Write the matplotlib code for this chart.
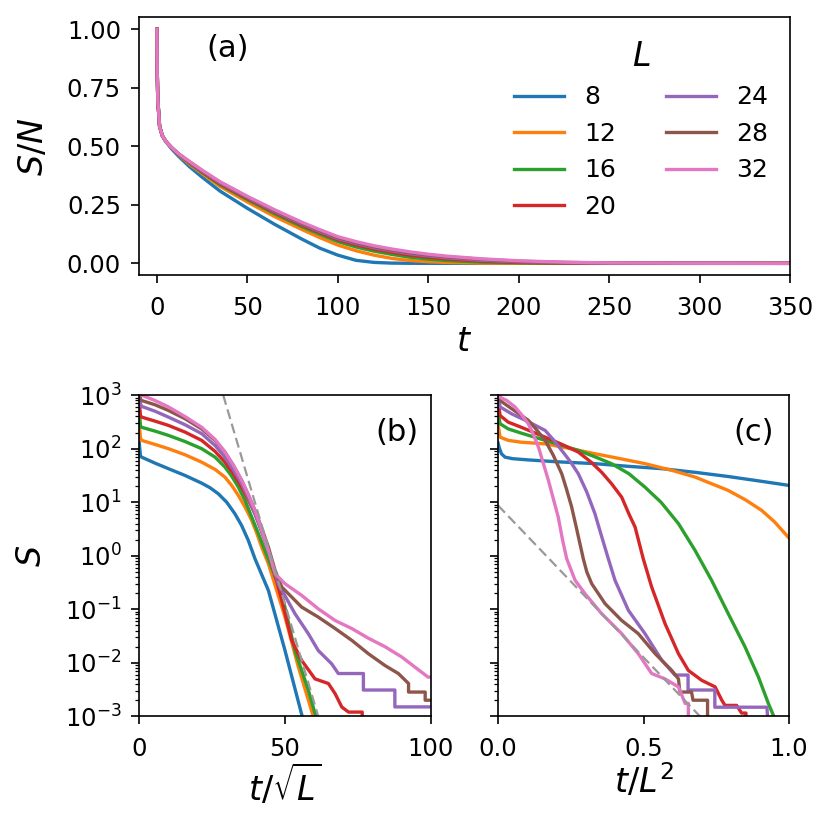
import matplotlib
matplotlib.use("Agg")
import matplotlib.pyplot as plt

# system sizes L and their colours (default tab10 cycle)
SIZES = [8, 12, 16, 20, 24, 28, 32]
COLORS = ['#1f77b4', '#ff7f0e', '#2ca02c', '#d62728', '#9467bd', '#8c564b', '#e377c2']

# ---- panel (a): S/N against t ----
T_A = [0, 0.2, 0.5, 1.5, 3, 5, 8, 12, 18, 25, 35, 50, 65, 80, 90, 100, 110, 120, 130,
       140, 150, 160, 180, 200, 225, 250, 300, 350]
SN_A = {
    8:  [1.0, 0.82, 0.70, 0.585, 0.545, 0.52, 0.49, 0.457, 0.413, 0.368, 0.308, 0.235, 0.167,
         0.104, 0.065, 0.035, 0.013, 0.004, 0.001, 0.0003, 0.0001, 0, 0, 0, 0, 0, 0, 0],
    12: [1.0, 0.82, 0.70, 0.585, 0.545, 0.52, 0.495, 0.463, 0.423, 0.383, 0.328, 0.262, 0.200,
         0.145, 0.110, 0.078, 0.054, 0.035, 0.021, 0.012, 0.007, 0.004, 0.001, 0.0002, 0, 0, 0, 0],
    16: [1.0, 0.82, 0.70, 0.585, 0.545, 0.52, 0.495, 0.465, 0.428, 0.388, 0.335, 0.272, 0.212,
         0.157, 0.124, 0.093, 0.070, 0.052, 0.038, 0.026, 0.018, 0.012, 0.005, 0.002, 0.0005,
         0.0001, 0, 0],
    20: [1.0, 0.82, 0.70, 0.585, 0.545, 0.52, 0.495, 0.466, 0.430, 0.391, 0.339, 0.277, 0.218,
         0.164, 0.131, 0.101, 0.079, 0.061, 0.047, 0.035, 0.026, 0.019, 0.009, 0.004, 0.0012,
         0.0003, 0, 0],
    24: [1.0, 0.82, 0.70, 0.585, 0.545, 0.52, 0.495, 0.467, 0.432, 0.394, 0.343, 0.281, 0.222,
         0.169, 0.136, 0.106, 0.085, 0.067, 0.053, 0.041, 0.032, 0.024, 0.013, 0.007, 0.003,
         0.001, 0.0001, 0],
    28: [1.0, 0.82, 0.70, 0.585, 0.545, 0.52, 0.495, 0.468, 0.434, 0.396, 0.346, 0.284, 0.226,
         0.173, 0.140, 0.110, 0.089, 0.071, 0.057, 0.045, 0.036, 0.028, 0.017, 0.009, 0.004,
         0.0015, 0.0002, 0],
    32: [1.0, 0.82, 0.70, 0.585, 0.545, 0.52, 0.495, 0.468, 0.435, 0.398, 0.348, 0.286, 0.229,
         0.176, 0.144, 0.114, 0.093, 0.075, 0.061, 0.049, 0.039, 0.031, 0.019, 0.011, 0.005,
         0.002, 0.0003, 0],
}

# ---- panel (b): S against t/sqrt(L) ----
B_X = {
    8:  [0, 0.4, 0.8, 5.4, 10, 15.7, 21.4, 24.3, 27.1, 30.0, 32.8, 35.1, 37.4, 39.7, 44.3,
         50.0, 55.7, 57.0],
    12: [0, 0.4, 0.8, 5.4, 10, 15.7, 21.4, 26.0, 29.4, 31.7, 34.0, 36.3, 38.6, 40.3, 42.0,
         44.3, 50.0, 54.6, 59.7, 61.0],
    16: [0, 0.4, 0.8, 5.4, 10, 15.7, 21.4, 26.0, 29.4, 31.7, 34.0, 36.3, 38.6, 40.8, 43.1,
         48.9, 53.4, 58.0, 60.6, 62.0],
    20: [0, 0.4, 0.8, 5.4, 10, 15.7, 21.4, 26.0, 29.4, 32.3, 35.1, 37.4, 39.7, 42.0, 44.3,
         48.9, 52.3, 55.7, 60.3, 64.9, 67.2, 69.5, 71.8, 76.5, 76.5],
    24: [0, 0.4, 0.8, 5.4, 10, 15.7, 21.4, 26.0, 29.4, 32.3, 35.1, 37.4, 39.7, 42.0, 44.3,
         47.7, 53.4, 58.0, 61.4, 66.0, 68.3, 76.9, 76.9, 87.7, 87.7, 100],
    28: [0, 0.4, 0.8, 5.4, 10, 15.7, 21.4, 26.0, 29.4, 32.3, 35.1, 37.4, 39.7, 42.0, 44.3,
         46.6, 48.9, 55.7, 61.4, 67.2, 72.9, 78.6, 84.3, 88.9, 92.4, 92.4, 98.1, 98.1, 100],
    32: [0, 0.4, 0.8, 5.4, 10, 15.7, 21.4, 26.0, 29.4, 32.3, 35.1, 37.4, 39.7, 42.0, 44.3,
         46.6, 50.0, 55.7, 61.4, 67.2, 72.9, 78.6, 84.3, 90.0, 94.6, 99.1, 100],
}
B_S = {
    8:  [128, 74, 69.5, 53.7, 42.3, 31.6, 22.7, 18.6, 14.4, 10.0, 6.1, 3.69, 1.94, 0.88,
         0.225, 0.017, 0.0011, 0.00063],
    12: [288, 158, 143, 120, 100, 77, 56, 41, 29.4, 20.6, 13.4, 8.1, 4.57, 2.65, 1.45, 0.71,
         0.0715, 0.0083, 0.001, 0.00063],
    16: [512, 270, 251, 213, 177, 136, 100, 69.5, 45.3, 30.7, 19.1, 10.8, 5.25, 2.65, 1.26,
         0.195, 0.017, 0.0031, 0.001, 0.00063],
    20: [800, 417, 389, 327, 272, 204, 143, 89, 56.1, 34, 19.1, 11.1, 6.1, 2.85, 1.26, 0.147,
         0.0263, 0.0111, 0.0050, 0.0041, 0.00265, 0.00149, 0.0012, 0.0012, 0.0005],
    24: [1152, 692, 617, 501, 389, 280, 191, 115, 69.2, 40.4, 22.2, 12.1, 6.1, 2.85, 1.26,
         0.30, 0.083, 0.035, 0.017, 0.0096, 0.0063, 0.0063, 0.0031, 0.0031, 0.0015, 0.0015],
    28: [1568, 851, 794, 661, 518, 363, 234, 143, 86.3, 48.7, 25.7, 13.8, 7.03, 3.28, 1.45,
         0.532, 0.26, 0.11, 0.0715, 0.0437, 0.0263, 0.0148, 0.0089, 0.0063, 0.0041, 0.00284,
         0.00284, 0.002, 0.002],
    32: [2048, 1050, 1000, 794, 603, 398, 251, 149, 86.3, 48.7, 25.7, 13.8, 7.03, 3.06, 1.26,
         0.462, 0.30, 0.182, 0.102, 0.0617, 0.0437, 0.0288, 0.02, 0.0129, 0.0083, 0.0054,
         0.0054],
}
B_GUIDE_X = [28.8, 61.4]
B_GUIDE_S = [1e3, 1e-3]

# ---- panel (c): S against t/L^2 ----
C_X = {
    8:  [0, 0.004, 0.012, 0.024, 0.05, 0.104, 0.2, 0.333, 0.45, 0.563, 0.68, 0.791, 0.9, 1.0],
    12: [0, 0.007, 0.035, 0.08, 0.162, 0.25, 0.333, 0.42, 0.505, 0.6, 0.677, 0.791, 0.85,
         0.906, 0.95, 1.0],
    16: [0, 0.007, 0.035, 0.08, 0.162, 0.22, 0.276, 0.33, 0.390, 0.45, 0.505, 0.56, 0.620,
         0.677, 0.734, 0.791, 0.849, 0.895, 0.929, 0.946, 0.957],
    20: [0, 0.007, 0.035, 0.08, 0.162, 0.22, 0.276, 0.32, 0.356, 0.39, 0.425, 0.45, 0.471,
         0.499, 0.528, 0.574, 0.620, 0.654, 0.700, 0.746, 0.769, 0.780, 0.820, 0.837, 0.852,
         0.852],
    24: [0, 0.007, 0.047, 0.1, 0.162, 0.19, 0.219, 0.25, 0.276, 0.305, 0.333, 0.355, 0.379,
         0.402, 0.448, 0.505, 0.563, 0.608, 0.653, 0.653, 0.745, 0.745, 0.924, 0.93],
    28: [0, 0.007, 0.047, 0.104, 0.13, 0.162, 0.19, 0.219, 0.235, 0.253, 0.27, 0.293, 0.305,
         0.322, 0.368, 0.425, 0.482, 0.540, 0.597, 0.620, 0.625, 0.665, 0.670, 0.720, 0.720],
    32: [0, 0.007, 0.03, 0.058, 0.08, 0.104, 0.12, 0.139, 0.156, 0.173, 0.19, 0.207, 0.222,
         0.236, 0.265, 0.299, 0.356, 0.425, 0.482, 0.528, 0.574, 0.620, 0.643, 0.654, 0.654],
}
C_S = {
    8:  [128, 105, 80, 69.5, 65, 61.7, 57, 52.5, 46.7, 42.3, 36, 30.2, 24.8, 20.6],
    12: [288, 164, 143, 132, 123, 100, 80.5, 65, 52.5, 39, 29.5, 16.6, 11.1, 7.03, 4.3, 2.14],
    16: [512, 292, 234, 195, 143, 115, 92.7, 71.6, 52.5, 34, 19.1, 10, 3.98, 1.26, 0.347,
         0.083, 0.0197, 0.0054, 0.00174, 0.00105, 0.0005],
    20: [800, 417, 313, 251, 164, 120, 86.3, 56, 36.3, 22.2, 12.4, 6.0, 3.43, 0.88, 0.26,
         0.0537, 0.0148, 0.0072, 0.0047, 0.00355, 0.002, 0.0016, 0.0016, 0.00115, 0.00115,
         0.0005],
    24: [1152, 603, 447, 327, 219, 147, 92.7, 56, 33.9, 15.5, 6.1, 2.4, 0.88, 0.347, 0.0955,
         0.035, 0.0111, 0.0059, 0.0059, 0.0031, 0.0031, 0.00148, 0.00148, 0.0005],
    28: [1568, 794, 557, 339, 234, 143, 75, 33.9, 17.8, 8.13, 3.2, 0.88, 0.50, 0.30, 0.127,
         0.0617, 0.035, 0.0148, 0.0072, 0.005, 0.00284, 0.00284, 0.002, 0.002, 0.0005],
    32: [2048, 912, 794, 603, 437, 292, 191, 107, 52.5, 25.7, 11.6, 5.25, 1.94, 0.88, 0.347,
         0.195, 0.083, 0.035, 0.0148, 0.0063, 0.005, 0.00355, 0.00174, 0.00174, 0.0005],
}
C_GUIDE_X = [0.0, 0.694]
C_GUIDE_S = [8.7, 1e-3]

LW = 2.4
TICK_FS = 17.5
LABEL_FS = 24
PANEL_FS = 22


def style_axis(ax):
    for sp in ax.spines.values():
        sp.set_linewidth(1.2)
    ax.tick_params(which='major', length=5.8, width=1.2, labelsize=TICK_FS)
    ax.tick_params(axis='y', which='major', pad=7)
    ax.tick_params(axis='x', which='major', pad=9)
    ax.tick_params(which='minor', length=2.6, width=0.9)


fig = plt.figure(figsize=(8.31, 8.31), dpi=100)
ax_a = fig.add_axes([0.167, 0.669, 0.784, 0.310])
ax_b = fig.add_axes([0.1676, 0.138, 0.3507, 0.3865])
ax_c = fig.add_axes([0.5993, 0.138, 0.3502, 0.3865], sharey=ax_b)

# (a)
for L, c in zip(SIZES, COLORS):
    ax_a.plot(T_A, SN_A[L], color=c, lw=LW, label=str(L))
ax_a.set_xlim(-10, 350)
ax_a.set_ylim(-0.05, 1.05)
ax_a.set_yticks([0, 0.25, 0.5, 0.75, 1.0])
ax_a.set_xlabel('$t$', fontsize=LABEL_FS, labelpad=4)
ax_a.set_ylabel('$S/N$', fontsize=LABEL_FS, labelpad=12)
ax_a.text(0.137, 0.88, '(a)', transform=ax_a.transAxes, fontsize=PANEL_FS,
          ha='center', va='center')
leg = ax_a.legend(ncol=2, frameon=False, fontsize=18, title='$L$',
                  title_fontsize=LABEL_FS, loc='upper right')
style_axis(ax_a)

# (b)
for L, c in zip(SIZES, COLORS):
    ax_b.plot(B_X[L], B_S[L], color=c, lw=LW)
ax_b.plot(B_GUIDE_X, B_GUIDE_S, color='#999999', lw=1.6, dashes=(4.5, 2.2))
ax_b.set_yscale('log')
ax_b.set_ylim(1e-3, 1e3)
ax_b.set_xlim(0, 100)
ax_b.set_xticks([0, 50, 100])
ax_b.set_xlabel(r'$t/\sqrt{L}$', fontsize=LABEL_FS, labelpad=1)
ax_b.set_ylabel('$S$', fontsize=LABEL_FS, labelpad=12)
ax_b.text(0.883, 0.885, '(b)', transform=ax_b.transAxes, fontsize=PANEL_FS,
          ha='center', va='center')
style_axis(ax_b)

# (c)
for L, c in zip(SIZES, COLORS):
    ax_c.plot(C_X[L], C_S[L], color=c, lw=LW)
ax_c.plot(C_GUIDE_X, C_GUIDE_S, color='#999999', lw=1.6, dashes=(4.5, 2.2))
ax_c.set_xlim(0, 1)
ax_c.set_xticks([0, 0.5, 1.0])
ax_c.set_xlabel('$t/L^2$', fontsize=LABEL_FS, labelpad=1)
ax_c.tick_params(labelleft=False)
ax_c.text(0.877, 0.885, '(c)', transform=ax_c.transAxes, fontsize=PANEL_FS,
          ha='center', va='center')
style_axis(ax_c)

fig.savefig('out.png', dpi=100)
